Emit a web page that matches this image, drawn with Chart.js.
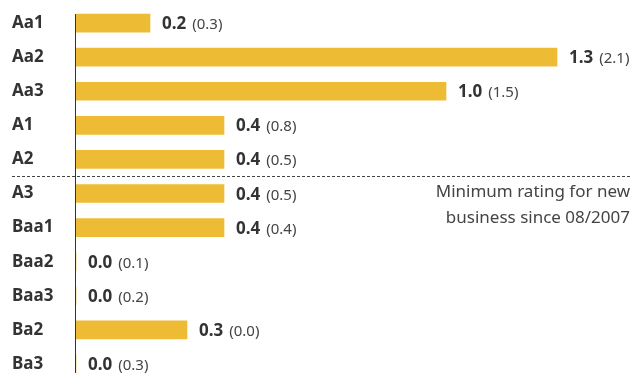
<!DOCTYPE html>
<html>
<head>
<meta charset="utf-8">
<script src="https://cdn.jsdelivr.net/npm/chart.js@4"></script>
<style>
  html, body { margin: 0; padding: 0; background: #fff; overflow: hidden; }
  #wrap { position: relative; width: 633px; height: 381px; }
</style>
</head>
<body>
<div id="wrap"><canvas id="myChart"></canvas></div>
<script>
// ---- data
const ratings = ["Aa1", "Aa2", "Aa3", "A1", "A2", "A3", "Baa1", "Baa2", "Baa3", "Ba2", "Ba3"];
const current = [0.2, 1.3, 1.0, 0.4, 0.4, 0.4, 0.4, 0.0, 0.0, 0.3, 0.0];
const previous = [0.3, 2.1, 1.5, 0.8, 0.5, 0.5, 0.4, 0.1, 0.2, 0.0, 0.3];
const lastBeforeLine = "A2";
const noteLines = ["Minimum rating for new", "business since 08/2007"];

const FONT = '"Noto Sans", sans-serif';
const barColor = "#EEBC34";

// valores al final de cada barra + linea de corte + nota
const extras = {
  id: "extras",
  afterDatasetsDraw(chart) {
    const ctx = chart.ctx;
    const meta = chart.getDatasetMeta(0);
    const yScale = chart.scales.y;
    ctx.save();

    // eje vertical
    const half = meta.data[0].height / 2;
    const left = chart.chartArea.left - 1;
    ctx.strokeStyle = "#333";
    ctx.lineWidth = 1;
    ctx.beginPath();
    ctx.moveTo(left + 0.5, meta.data[0].y - half);
    ctx.lineTo(left + 0.5, meta.data[meta.data.length - 1].y + half);
    ctx.stroke();

    // valores (misma linea base)
    ctx.textBaseline = "alphabetic";
    meta.data.forEach((bar, i) => {
      let x = bar.x + 12;
      const base = bar.y + 6;
      const main = current[i].toFixed(1);
      ctx.font = "bold 17px " + FONT;
      ctx.fillStyle = "#333";
      ctx.fillText(main, x, base);
      x += ctx.measureText(main).width + 6;
      ctx.font = "15px " + FONT;
      ctx.fillStyle = "#444";
      ctx.fillText("(" + previous[i].toFixed(1) + ")", x, base);
    });

    // linea punteada
    const idx = ratings.indexOf(lastBeforeLine);
    const yLine = Math.round((yScale.getPixelForValue(idx) + yScale.getPixelForValue(idx + 1)) / 2) + 0.5;
    ctx.setLineDash([3, 2]);
    ctx.strokeStyle = "#444";
    ctx.beginPath();
    ctx.moveTo(12, yLine);
    ctx.lineTo(chart.width - 2, yLine);
    ctx.stroke();
    ctx.setLineDash([]);

    // nota
    ctx.textBaseline = "middle";
    ctx.font = "17px " + FONT;
    ctx.fillStyle = "#444";
    ctx.textAlign = "right";
    noteLines.forEach((t, k) => {
      ctx.fillText(t, chart.width - 3, yLine + 16 + k * 26);
    });
    ctx.restore();
  }
};

const ctx = document.getElementById("myChart");
const chart = new Chart(ctx, {
  type: "bar",
  data: {
    labels: ratings,
    datasets: [{
      data: current,
      backgroundColor: barColor,
      borderWidth: 0,
      barThickness: 18
    }]
  },
  options: {
    indexAxis: "y",
    responsive: true,
    maintainAspectRatio: false,
    animation: false,
    layout: { padding: { left: 12, top: 6, right: 2, bottom: 0 } },
    plugins: {
      legend: { display: false },
      tooltip: { enabled: false }
    },
    scales: {
      x: {
        display: false,
        min: 0,
        max: 1.5
      },
      y: {
        grid: { display: false },
        border: { display: false },
        afterFit(scale) {
          scale.width = 64;
          scale.paddingTop = 0;
          scale.paddingBottom = 0;
        },
        ticks: {
          crossAlign: "far",
          color: "#333",
          font: { family: FONT, size: 17, weight: "bold" }
        }
      }
    }
  },
  plugins: [extras]
});
</script>
</body>
</html>
